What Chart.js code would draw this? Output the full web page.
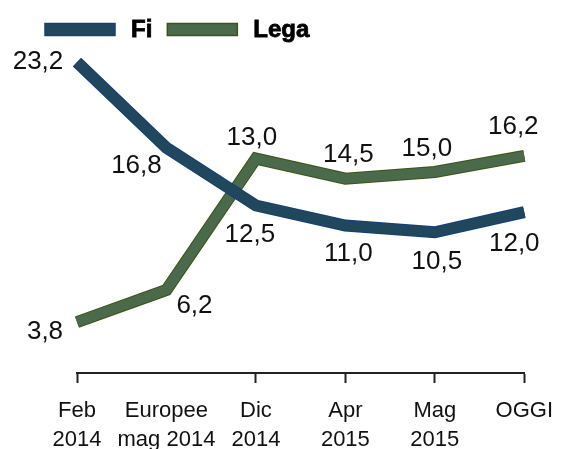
<!DOCTYPE html>
<html>
<head>
<meta charset="utf-8">
<script src="https://cdn.jsdelivr.net/npm/chart.js@4.4.1/dist/chart.umd.min.js"></script>
<style>
  html, body { margin: 0; padding: 0; background: #fff; }
</style>
</head>
<body>
<canvas id="chart" width="566" height="449"></canvas>
<script>
const categories = [['Feb', '2014'], ['Europee', 'mag 2014'], ['Dic', '2014'], ['Apr', '2015'], ['Mag', '2015'], ['OGGI']];
const fiValues = [23.2, 16.8, 12.5, 11.0, 10.5, 12.0];
// the Dic point of Lega is drawn higher in the picture than its printed 13,0
const legaValues = [3.8, 6.2, 16.0, 14.5, 15.0, 16.2];
const fiLabels = ['23,2', '16,8', '12,5', '11,0', '10,5', '12,0'];
const legaLabels = ['3,8', '6,2', '13,0', '14,5', '15,0', '16,2'];

const FI_FILL = '#20475b';
const FI_EDGE = '#123f80';
const LEGA_FILL = '#4b6a4c';
const LEGA_EDGE = '#3a5512';

function lineSet(label, data, color, width, order) {
  return {
    label,
    data,
    borderColor: color,
    borderWidth: width,
    borderCapStyle: 'butt',
    borderJoinStyle: 'miter',
    pointRadius: 0,
    pointHoverRadius: 0,
    tension: 0,
    fill: false,
    clip: false,
    order,
  };
}

// value labels next to each point
const valueLabels = {
  id: 'valueLabels',
  afterDatasetsDraw(chart, args, opts) {
    const ctx = chart.ctx;
    ctx.save();
    ctx.font = '26px "Liberation Sans", Arial, sans-serif';
    ctx.fillStyle = '#111';
    ctx.textAlign = 'center';
    ctx.textBaseline = 'middle';
    opts.sets.forEach(set => {
      const meta = chart.getDatasetMeta(set.dataset);
      meta.data.forEach((pt, i) => {
        const [dx, dy] = set.offsets[i];
        ctx.fillText(set.texts[i], pt.x + dx, pt.y + dy);
      });
    });
    ctx.restore();
  },
};

// legend drawn by hand: swatch + bold name
const topLegend = {
  id: 'topLegend',
  afterDraw(chart, args, opts) {
    const ctx = chart.ctx;
    ctx.save();
    ctx.font = 'bold 24px "Liberation Sans", Arial, sans-serif';
    ctx.textBaseline = 'alphabetic';
    let x = opts.x;
    opts.items.forEach(item => {
      ctx.fillStyle = item.fill;
      ctx.fillRect(x, opts.y, 70, 12);
      ctx.strokeStyle = item.edge;
      ctx.lineWidth = 1.5;
      ctx.strokeRect(x, opts.y, 70, 12);
      const tx = x + 86;
      ctx.fillStyle = '#000';
      ctx.strokeStyle = '#000';
      ctx.lineWidth = 0.8;
      ctx.fillText(item.text, tx, opts.y + 13);
      ctx.strokeText(item.text, tx, opts.y + 13);
      x = tx + ctx.measureText(item.text).width + 15;
    });
    ctx.restore();
  },
};

new Chart(document.getElementById('chart'), {
  type: 'line',
  data: {
    labels: categories,
    datasets: [
      lineSet('Fi', fiValues, FI_FILL, 10, 0),
      lineSet('Fi edge', fiValues, FI_EDGE, 12, 1),
      lineSet('Lega', legaValues, LEGA_FILL, 10, 2),
      lineSet('Lega edge', legaValues, LEGA_EDGE, 12, 3),
    ],
  },
  options: {
    responsive: false,
    animation: false,
    events: [],
    layout: {
      padding: { left: 77, right: 38, top: 38, bottom: 0 },
    },
    plugins: {
      legend: { display: false },
      tooltip: { enabled: false },
      valueLabels: {
        sets: [
          {
            dataset: 0,
            texts: fiLabels,
            offsets: [[-39, 0], [-30, 18], [-6, 29], [3, 28], [2, 30], [-10, 32]],
          },
          {
            dataset: 2,
            texts: legaLabels,
            offsets: [[-32, 10], [28, 16], [-4, -21], [3, -24], [-8, -23], [-11, -29]],
          },
        ],
      },
      topLegend: {
        x: 45,
        y: 23.5,
        items: [
          { text: 'Fi', fill: FI_FILL, edge: FI_EDGE },
          { text: 'Lega', fill: LEGA_FILL, edge: LEGA_EDGE },
        ],
      },
    },
    scales: {
      x: {
        offset: false,
        afterFit(scale) {
          scale.height = 76;
        },
        border: { display: true, color: '#222', width: 2 },
        grid: {
          display: true,
          drawOnChartArea: false,
          drawTicks: true,
          tickLength: 10,
          tickWidth: 2,
          // no tick mark under "Europee" in the original
          tickColor: ctx => (ctx.index === 1 ? 'rgba(0,0,0,0)' : '#222'),
        },
        ticks: {
          color: '#111',
          font: { family: '"Liberation Sans", Arial, sans-serif', size: 22, lineHeight: 1.32 },
          padding: 13,
          maxRotation: 0,
          autoSkip: false,
        },
      },
      y: {
        display: false,
        min: 0,
        max: 25,
      },
    },
  },
  plugins: [valueLabels, topLegend],
});
</script>
</body>
</html>
